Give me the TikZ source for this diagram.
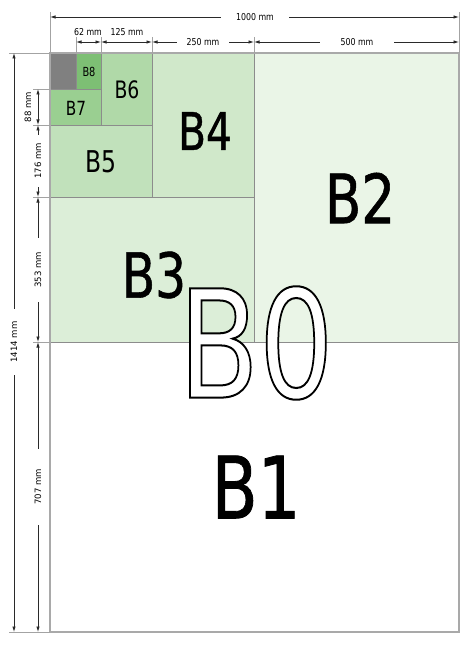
\documentclass[tikz,border=0pt]{standalone}
\usepackage{fontspec}
\setmainfont{DejaVu Sans Condensed}
\usetikzlibrary{arrows.meta}

\definecolor{papertwo}{HTML}{EAF5E7}
\definecolor{paperthree}{HTML}{DCEED8}
\definecolor{paperfour}{HTML}{D0E8CA}
\definecolor{paperfive}{HTML}{C1E1BB}
\definecolor{papersix}{HTML}{B0D9A8}
\definecolor{paperseven}{HTML}{9ACF91}
\definecolor{papereight}{HTML}{7DBF74}
\definecolor{paperrest}{HTML}{808080}
\definecolor{edgegray}{HTML}{8C8C8C}
\definecolor{dimgray}{HTML}{2A2A2A}

\tikzset{
  sheet/.style={draw=edgegray, line width=0.8pt},
  extline/.style={draw=edgegray!80, line width=0.8pt},
  dimline/.style={{Latex[length=5.5pt,width=3.5pt]}-{Latex[length=5.5pt,width=3.5pt]}, draw=dimgray, line width=0.8pt},
  dimtext/.style={font=\fontsize{9.5}{9.5}\selectfont, inner sep=1.5pt, xscale=0.92},
  gap/.style={fill=white},
  sizename/.style={inner sep=0pt, xscale=0.87, font=\fontsize{#1}{#1}\selectfont}
}

\newcommand{\outlinetext}[1]{{\color{white}\special{pdf:literal direct 2 Tr 2 w 0 0 0 RG}#1\special{pdf:literal direct 0 Tr}}}
\newcommand{\heavytext}[2]{{\special{pdf:literal direct 2 Tr #1 w 0 0 0 RG}#2\special{pdf:literal direct 0 Tr}}}

\begin{document}
\begin{tikzpicture}[x=1pt,y=-1pt]
\useasboundingbox (0,0) rectangle (474,647);

\fill[white] (50,342) rectangle (459,632);
\fill[papertwo] (254,53) rectangle (459,342);
\fill[paperthree] (50,197) rectangle (254,342);
\fill[paperfour] (152,53) rectangle (254,197);
\fill[paperfive] (50,125) rectangle (152,197);
\fill[papersix] (101,53) rectangle (152,125);
\fill[paperseven] (50,89) rectangle (101,125);
\fill[papereight] (76,53) rectangle (101,89);
\fill[paperrest] (50,53) rectangle (76,89);

\draw[sheet] (50,342) -- (459,342);
\draw[sheet] (254,53) -- (254,342);
\draw[sheet] (50,197) -- (254,197);
\draw[sheet] (152,53) -- (152,197);
\draw[sheet] (50,125) -- (152,125);
\draw[sheet] (101,53) -- (101,125);
\draw[sheet] (50,89) -- (101,89);
\draw[sheet] (76,53) -- (76,89);
\draw[draw=edgegray!75, line width=1.2pt] (50,53) rectangle (459,632);

\coordinate (t0) at (50,17);
\coordinate (t1) at (459,17);
\coordinate (h0) at (76,42);
\coordinate (h1) at (101,42);
\coordinate (h2) at (152,42);
\coordinate (h3) at (254,42);
\coordinate (h4) at (459,42);
\coordinate (l0) at (14,53);
\coordinate (l1) at (14,632);
\coordinate (v0) at (38,89);
\coordinate (v1) at (38,125);
\coordinate (v2) at (38,197);
\coordinate (v3) at (38,342);
\coordinate (v4) at (38,632);

\draw[extline] (50,12) -- (50,53);
\draw[extline] (459,12) -- (459,53);
\foreach \x in {76,101,152,254}
  \draw[extline] (\x,37) -- (\x,53);
\draw[extline] (9,53) -- (50,53);
\draw[extline] (9,632) -- (50,632);
\foreach \y in {89,125,197,342}
  \draw[extline] (33,\y) -- (50,\y);

\draw[dimline] (t0) -- (t1);
\draw[dimline] (h0) -- (h1);
\draw[dimline] (h1) -- (h2);
\draw[dimline] (h2) -- (h3);
\draw[dimline] (h3) -- (h4);
\draw[dimline] (l0) -- (l1);
\draw[dimline] (v0) -- (v1);
\draw[dimline] (v1) -- (v2);
\draw[dimline] (v2) -- (v3);
\draw[dimline] (v3) -- (v4);

\node[dimtext,gap,inner xsep=16pt] (w1000) at (255,17) {1000 mm};
\node[dimtext] (w62) at (88,32) {62 mm};
\node[dimtext] (w125) at (127,32) {125 mm};
\node[dimtext,gap,inner xsep=10pt] (w250) at (203,42) {250 mm};
\node[dimtext,gap,inner xsep=22pt] (w500) at (357,42) {500 mm};
\node[dimtext,gap,rotate=90,inner xsep=12pt] (h1414) at (14,342) {1414 mm};
\node[dimtext,rotate=90] (h88) at (28,107) {88 mm};
\node[dimtext,gap,rotate=90,inner xsep=8pt] (h176) at (38,161) {176 mm};
\node[dimtext,gap,rotate=90,inner xsep=14pt] (h353) at (38,270) {353 mm};
\node[dimtext,gap,rotate=90,inner xsep=20pt] (h707) at (38,487) {707 mm};

\node[sizename=68] (btwo) at (360,198) {\heavytext{0.6}{B2}};
\node[sizename=62] (bthree) at (154,275) {\heavytext{0.55}{B3}};
\node[sizename=52] (bfour) at (205,131) {\heavytext{0.45}{B4}};
\node[sizename=30] (bfive) at (101,162) {B5};
\node[sizename=24] (bsix) at (127,90) {B6};
\node[sizename=19.5] (bseven) at (76,108) {B7};
\node[sizename=12.5] (beight) at (89,72) {B8};
\node[sizename=86] (bone) at (256,487) {\heavytext{0.8}{B1}};
\node[sizename=150] (bzero) at (256,343) {\outlinetext{B0}};
\end{tikzpicture}
\end{document}
